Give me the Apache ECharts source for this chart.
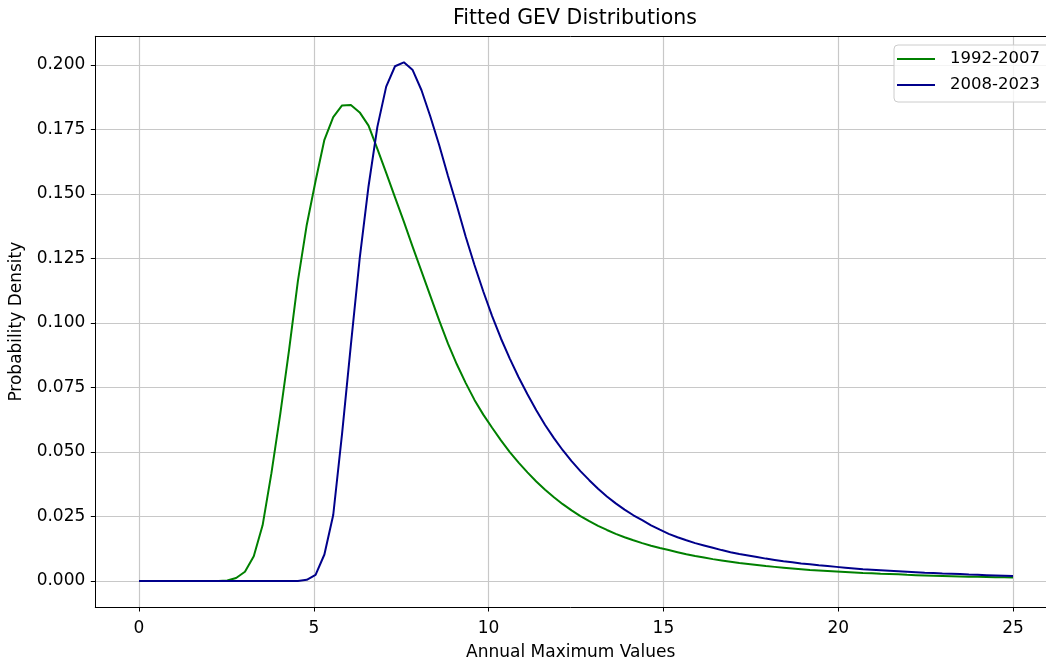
<!DOCTYPE html>
<html>
<head>
<meta charset="utf-8">
<script src="https://cdn.jsdelivr.net/npm/echarts@6/dist/echarts.min.js"></script>
<style>
html,body{margin:0;padding:0;background:#fff;}
#chart{width:1046px;height:666px;}
</style>
</head>
<body>
<div id="chart"></div>
<script>
const xValues = [0, 0.2525, 0.5051, 0.7576, 1.0101, 1.2626, 1.5152, 1.7677, 2.0202, 2.2727,
  2.5253, 2.7778, 3.0303, 3.2828, 3.5354, 3.7879, 4.0404, 4.2929, 4.5455, 4.798,
  5.0505, 5.303, 5.5556, 5.8081, 6.0606, 6.3131, 6.5657, 6.8182, 7.0707, 7.3232,
  7.5758, 7.8283, 8.0808, 8.3333, 8.5859, 8.8384, 9.0909, 9.3434, 9.596, 9.8485,
  10.101, 10.3535, 10.6061, 10.8586, 11.1111, 11.3636, 11.6162, 11.8687, 12.1212, 12.3737,
  12.6263, 12.8788, 13.1313, 13.3838, 13.6364, 13.8889, 14.1414, 14.3939, 14.6465, 14.899,
  15.1515, 15.404, 15.6566, 15.9091, 16.1616, 16.4141, 16.6667, 16.9192, 17.1717, 17.4242,
  17.6768, 17.9293, 18.1818, 18.4343, 18.6869, 18.9394, 19.1919, 19.4444, 19.697, 19.9495,
  20.202, 20.4545, 20.7071, 20.9596, 21.2121, 21.4646, 21.7172, 21.9697, 22.2222, 22.4747,
  22.7273, 22.9798, 23.2323, 23.4848, 23.7374, 23.9899, 24.2424, 24.4949, 24.7475, 25];

const pdf1992_2007 = [0, 0, 0, 0, 0, 0, 0, 0, 0, 0,
  0.0002, 0.0012, 0.0036, 0.0096, 0.0216, 0.0418, 0.0647, 0.0896, 0.1163, 0.1380,
  0.1550, 0.1710, 0.1798, 0.1843, 0.1845, 0.1816, 0.1765, 0.1675, 0.1582, 0.1487,
  0.1393, 0.1295, 0.1200, 0.1105, 0.1010, 0.0920, 0.0840, 0.0768, 0.0702, 0.0645,
  0.0594, 0.0545, 0.0500, 0.0459, 0.0421, 0.0386, 0.0354, 0.0325, 0.0298, 0.0274,
  0.0252, 0.0232, 0.0214, 0.0198, 0.0183, 0.0170, 0.0158, 0.0147, 0.0137, 0.0128,
  0.0120, 0.0112, 0.0104, 0.0097, 0.0091, 0.0085, 0.0080, 0.0075, 0.0070, 0.0066,
  0.0062, 0.0058, 0.0055, 0.0052, 0.0049, 0.0046, 0.0043, 0.0041, 0.0039, 0.0037,
  0.0035, 0.0033, 0.0031, 0.0030, 0.0028, 0.0027, 0.0026, 0.0024, 0.0023, 0.0022,
  0.0021, 0.0020, 0.0019, 0.0018, 0.0017, 0.0017, 0.0016, 0.0015, 0.0015, 0.0014];

const pdf2008_2023 = [0, 0, 0, 0, 0, 0, 0, 0, 0, 0,
  0, 0, 0, 0, 0, 0, 0, 0, 0, 0.0005,
  0.0024, 0.0103, 0.0256, 0.0570, 0.0915, 0.1250, 0.1530, 0.1760, 0.1916, 0.1995,
  0.2010, 0.1980, 0.1902, 0.1800, 0.1690, 0.1570, 0.1455, 0.1335, 0.1225, 0.1122,
  0.1027, 0.0940, 0.0862, 0.0790, 0.0724, 0.0662, 0.0605, 0.0554, 0.0507, 0.0465,
  0.0426, 0.0391, 0.0358, 0.0328, 0.0301, 0.0277, 0.0255, 0.0236, 0.0216, 0.0199,
  0.0183, 0.0170, 0.0158, 0.0147, 0.0138, 0.0129, 0.0120, 0.0112, 0.0105, 0.0099,
  0.0093, 0.0087, 0.0082, 0.0077, 0.0073, 0.0068, 0.0065, 0.0061, 0.0058, 0.0055,
  0.0052, 0.0049, 0.0046, 0.0044, 0.0042, 0.0040, 0.0038, 0.0036, 0.0034, 0.0032,
  0.0031, 0.0029, 0.0028, 0.0027, 0.0025, 0.0024, 0.0023, 0.0022, 0.0021, 0.0020];

const seriesNames = ['1992-2007', '2008-2023'];
const seriesColors = ['#008000', '#00008b'];
const xTicks = [0, 5, 10, 15, 20, 25];
const yTicks = [0, 0.025, 0.05, 0.075, 0.1, 0.125, 0.15, 0.175, 0.2];

const FONT = 'DejaVu Sans';
const X_MIN = -1.25, X_MAX = 25.944;   // plot area runs past the right edge of the picture
const Y_MIN = -0.01005, Y_MAX = 0.2111;

const chart = echarts.init(document.getElementById('chart'), null, {renderer: 'canvas'});

function pairs(ys) { return xValues.map((x, i) => [x, ys[i]]); }

chart.setOption({
  animation: false,
  backgroundColor: '#ffffff',
  title: {
    text: 'Fitted GEV Distributions',
    left: 453, top: 8, padding: 0,
    textStyle: {fontFamily: FONT, fontSize: 20.5, fontWeight: 'normal', color: '#000'}
  },
  legend: {
    data: seriesNames.map(n => ({name: n, icon: 'rect'})),
    orient: 'vertical',
    left: 894, top: 45,
    padding: [4, 24, 7, 3],
    itemWidth: 38, itemHeight: 2, itemGap: 6,
    backgroundColor: 'rgba(255,255,255,0.8)',
    borderColor: '#cccccc', borderWidth: 1, borderRadius: 4,
    textStyle: {fontFamily: FONT, fontSize: 16.5, color: '#000', lineHeight: 20, padding: [0, 0, 0, 10]}
  },
  grid: {
    left: 95.3, right: 0, top: 36.3, bottom: 58,
    show: false
  },
  xAxis: [{
    type: 'value', min: X_MIN, max: X_MAX,
    name: 'Annual Maximum Values', nameLocation: 'middle', nameGap: 37,
    nameTextStyle: {fontFamily: FONT, fontSize: 17, color: '#000'},
    axisLine: {show: true, onZero: false, lineStyle: {color: '#000', width: 1}},
    axisTick: {show: true, length: 4.5, customValues: xTicks, lineStyle: {color: '#000', width: 1}},
    axisLabel: {customValues: xTicks, margin: 13, fontFamily: FONT, fontSize: 17, color: '#000',
      formatter: v => String(v)},
    splitLine: {show: true, lineStyle: {color: '#c8c8c8', width: 1.2}}
  }, {
    type: 'value', position: 'top', min: X_MIN, max: X_MAX,
    axisLine: {show: true, onZero: false, lineStyle: {color: '#000', width: 1}},
    axisTick: {show: false}, axisLabel: {show: false}, splitLine: {show: false}
  }],
  yAxis: {
    type: 'value', min: Y_MIN, max: Y_MAX,
    name: 'Probability Density', nameLocation: 'middle', nameGap: 70, nameRotate: 90,
    nameTextStyle: {fontFamily: FONT, fontSize: 17, color: '#000'},
    axisLine: {show: true, onZero: false, lineStyle: {color: '#000', width: 1}},
    axisTick: {show: true, length: 4.5, customValues: yTicks, lineStyle: {color: '#000', width: 1}},
    axisLabel: {customValues: yTicks, margin: 10, fontFamily: FONT, fontSize: 17, color: '#000',
      formatter: v => v.toFixed(3)},
    splitLine: {show: true, lineStyle: {color: '#c8c8c8', width: 1.2}}
  },
  series: [
    {name: seriesNames[0], type: 'line', xAxisIndex: 0, data: pairs(pdf1992_2007), symbol: 'none', showSymbol: false,
      lineStyle: {color: seriesColors[0], width: 2}, itemStyle: {color: seriesColors[0]}},
    {name: seriesNames[1], type: 'line', xAxisIndex: 0, data: pairs(pdf2008_2023), symbol: 'none', showSymbol: false,
      lineStyle: {color: seriesColors[1], width: 2}, itemStyle: {color: seriesColors[1]}}
  ]
});
</script>
</body>
</html>
